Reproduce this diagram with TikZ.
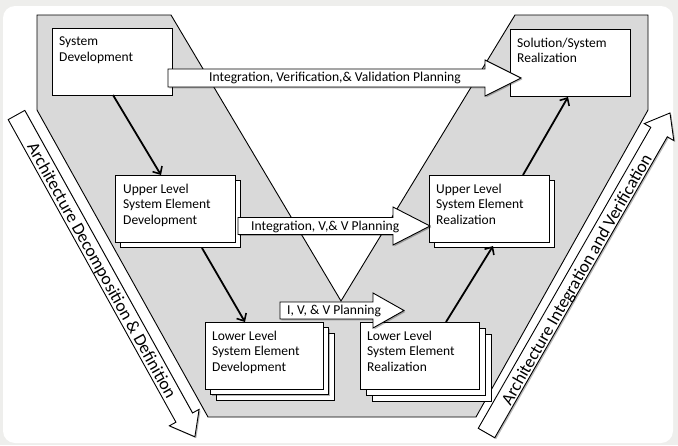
\documentclass[tikz,border=0pt]{standalone}
\usepackage{fontspec}
\setmainfont{Carlito}
\usetikzlibrary{arrows.meta,shadows,calc}
\definecolor{pagegray}{HTML}{EEEEEC}
\definecolor{vgray}{HTML}{D9D9D9}

\begin{document}
\begin{tikzpicture}[x=1pt,y=-1pt,
  outline/.style={draw=black, line width=0.9pt, line join=miter},
  softshadow/.style={drop shadow={shadow xshift=1.4pt, shadow yshift=-1.4pt, fill=black, opacity=0.28}},
  box/.style={outline, fill=white, softshadow, minimum width=120pt, minimum height=67pt,
              inner sep=0pt, outer sep=0pt, anchor=north west},
  boxlabel/.style={anchor=north west, align=left, inner sep=0pt,
                   font=\fontsize{13.5}{15.8}\selectfont},
  flow/.style={line width=1.8pt, -{Straight Barb[length=6pt,width=11pt,line width=1.6pt]}},
  block/.style={outline, fill=white, softshadow},
  blocklabel/.style={anchor=west, inner sep=0pt, font=\fontsize{13.6}{16}\selectfont},
  sidelabel/.style={inner sep=0pt, font=\fontsize{17.5}{20}\selectfont}
]
\useasboundingbox (0,0) rectangle (678,445);

% page and panel
\fill[pagegray] (0,0) rectangle (678,445);
\fill[white, rounded corners=12pt] (3,6) rectangle (673,443);

% the grey V band
\draw[outline, fill=vgray]
  (37,15) -- (171,15) -- (341,301) -- (515,15) -- (648,15) -- (648,110)
  -- (476,417) -- (208,417) -- (37,110) -- cycle;

% side arrows
\draw[block]
  (8.19,119.61) -- (24.81,110.39) -- (192.55,412.97) -- (199.11,409.34)
  -- (194.9,436.8) -- (169.37,425.82) -- (175.93,422.19) -- cycle;
\node[sidelabel, rotate=-61] (decomp) at (101,271)
  {Architecture Decomposition \& Definition};

\draw[block]
  (478.26,428.27) -- (494.74,437.73) -- (667.29,136.79) -- (673.80,140.52)
  -- (669.99,112.98) -- (644.30,123.60) -- (650.81,127.33) -- cycle;
\node[sidelabel, rotate=60.2] (integ) at (577.5,280)
  {Architecture Integration and Verification};

% stacked copies behind the element boxes
\draw[outline, fill=white, softshadow] (120,180) rectangle ++(120,67);
\draw[outline, fill=white, softshadow] (434,180) rectangle ++(120,67);
\draw[outline, fill=white, softshadow] (216,333) rectangle ++(118,67);
\draw[outline, fill=white, softshadow] (210.5,327.5) rectangle ++(118,67);
\draw[outline, fill=white, softshadow] (372,334) rectangle ++(119,67);
\draw[outline, fill=white, softshadow] (366,328) rectangle ++(119,67);

% element boxes
\node[box] (sd)    at (52,28)   {};
\node[box] (sol)   at (510,29)  {};
\node[box] (udev)  at (115,175) {};
\node[box] (ureal) at (429,175) {};
\node[box, minimum width=118pt] (ldev)  at (205,322) {};
\node[box, minimum width=119pt] (lreal) at (360,322) {};

\node[boxlabel] (sd-t)    at ([xshift=7pt,yshift=-8.5pt]sd.north west)    {System\\Development};
\node[boxlabel] (sol-t)   at ([xshift=7pt,yshift=-8.5pt]sol.north west)   {Solution/System\\Realization};
\node[boxlabel] (udev-t)  at ([xshift=8pt,yshift=-8.5pt]udev.north west)  {Upper Level\\System Element\\Development};
\node[boxlabel] (ureal-t) at ([xshift=7pt,yshift=-8.5pt]ureal.north west) {Upper Level\\System Element\\Realization};
\node[boxlabel] (ldev-t)  at ([xshift=7pt,yshift=-8.5pt]ldev.north west)  {Lower Level\\System Element\\Development};
\node[boxlabel] (lreal-t) at ([xshift=7pt,yshift=-8.5pt]lreal.north west) {Lower Level\\System Element\\Realization};

% decomposition and realization flows
\draw[flow] ([xshift=61pt]sd.south west) -- ([xshift=46pt]udev.north west);
\draw[flow] ([xshift=87pt,yshift=-6pt]udev.south west) -- ([xshift=40pt]ldev.north west);
\draw[flow] ([xshift=86pt]lreal.north west) -- ([xshift=64pt,yshift=-4pt]ureal.south west);
\draw[flow] ([xshift=94pt]ureal.north west) -- ([xshift=58pt,yshift=-1pt]sol.south west);

% planning arrows across the V
\draw[block] (168,69) -- (485,69) -- (485,60) -- (521,78) -- (485,96) -- (485,87) -- (168,87) -- cycle;
\node[blocklabel] (ivvp) at (209,78) {Integration, Verification,\& Validation Planning};

\draw[block] (238,217.5) -- (393,217.5) -- (393,207) -- (430,226) -- (393,245) -- (393,234.5) -- (238,234.5) -- cycle;
\node[blocklabel] (ivv2) at (251,227) {Integration, V,\& V Planning};

\draw[block] (280,302) -- (373,302) -- (373,293) -- (404,310.5) -- (373,328) -- (373,319) -- (280,319) -- cycle;
\node[blocklabel] (ivv3) at (287,311) {I, V, \& V Planning};
\end{tikzpicture}
\end{document}
